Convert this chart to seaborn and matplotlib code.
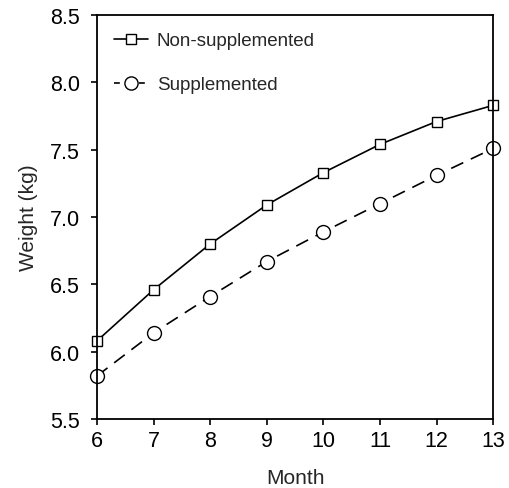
# Peso medio por mes: suplementado vs no suplementado
import pandas as pd
import numpy as np
import matplotlib
matplotlib.use("Agg")
import matplotlib.pyplot as plt
import seaborn as sns

# Datos
months = [6, 7, 8, 9, 10, 11, 12, 13]
non_supplemented = [6.08, 6.46, 6.80, 7.09, 7.33, 7.54, 7.71, 7.83]
supplemented = [5.82, 6.14, 6.41, 6.67, 6.89, 7.10, 7.31, 7.51]
y_ticks = [5.5, 6.0, 6.5, 7.0, 7.5, 8.0, 8.5]

sns.set_theme(style="white")
plt.rcParams["font.family"] = ["Liberation Sans", "DejaVu Sans"]

df = pd.DataFrame({"Month": months,
                   "Non-supplemented": non_supplemented,
                   "Supplemented": supplemented})

fig = plt.figure(figsize=(5.1, 4.89), dpi=100)
ax = fig.add_axes([0.190, 0.141, 0.777, 0.826])

sns.lineplot(data=df, x="Month", y="Non-supplemented", ax=ax,
             color="black", linewidth=1.2, marker="s", markersize=7,
             markerfacecolor="white", markeredgecolor="black",
             markeredgewidth=1.0, label="Non-supplemented", clip_on=False)
sns.lineplot(data=df, x="Month", y="Supplemented", ax=ax,
             color="black", linewidth=1.2, linestyle=(0, (8, 5)), marker="o",
             markersize=10, markerfacecolor="white", markeredgecolor="black",
             markeredgewidth=1.0, label="Supplemented", clip_on=False)

ax.set_xlim(6, 13)
ax.set_ylim(5.5, 8.5)
ax.set_xticks(months)
ax.set_yticks(y_ticks)
ax.set_yticklabels([f"{v:.1f}" for v in y_ticks])
ax.set_xlabel("Month", fontsize=15, labelpad=12)
ax.set_ylabel("Weight (kg)", fontsize=15, labelpad=9)

for s in ax.spines.values():
    s.set_color("black")
    s.set_linewidth(1.3)
ax.tick_params(axis="both", direction="out", length=4, width=1.2,
               color="black", labelsize=15.5, labelcolor="black",
               bottom=True, left=True)
ax.tick_params(axis="y", pad=8)
ax.tick_params(axis="x", pad=4)

# Leyenda con guiones cortos en el manejador
h, l = ax.get_legend_handles_labels()
leg = ax.legend(h, l, loc="upper left", frameon=False, fontsize=13.5,
                handlelength=1.8, labelspacing=1.45, handletextpad=0.5,
                borderaxespad=0.5)
for line in leg.get_lines():
    line.set_markersize(7 if line.get_marker() == "s" else 9.5)
leg.get_lines()[1].set_linestyle((0, (3.5, 4)))

fig.savefig("out.png", dpi=100)
